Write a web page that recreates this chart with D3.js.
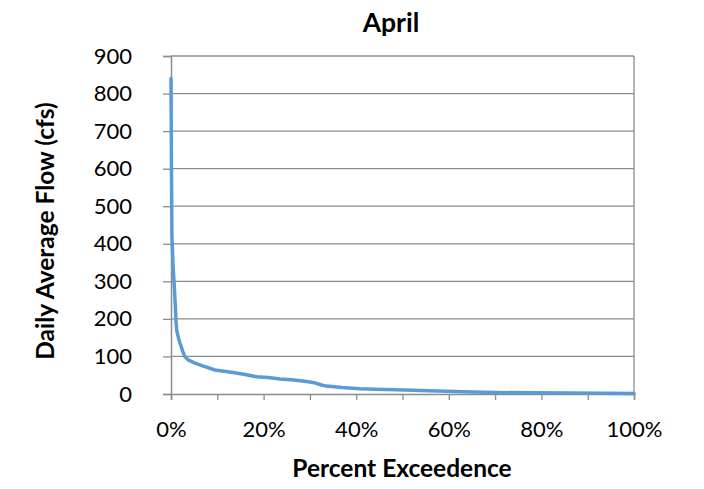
<!DOCTYPE html>
<html><head><meta charset="utf-8">
<script src="https://cdn.jsdelivr.net/npm/d3@7"></script>
<style>body{margin:0;background:#fff;} svg{display:block;}</style>
</head><body>
<svg id="c" width="704" height="489"></svg>
<script>
const title = "April";
const xTitle = "Percent Exceedence";
const yTitle = "Daily Average Flow (cfs)";
const pctExceed = [0, 0.1, 0.2, 0.45, 0.7, 0.95, 1.1, 1.25, 1.6, 1.95, 2.5, 3.0, 3.8, 5.2, 7.0, 9.5, 13.4, 16, 18.5, 21, 23.5, 26, 29.3, 31, 32.5, 33.6, 37, 40.8, 44, 48.7, 54, 59.5, 65, 70.3, 78, 86, 93, 100];
const flow =      [840, 600, 420, 340, 290, 230, 190, 168, 150, 135, 115, 99, 90, 82, 74, 64, 57, 52, 46, 44, 40, 38, 33, 30, 24, 21, 17, 14, 12.5, 11, 9, 7, 5, 4, 3, 2.5, 2, 1];
const yTicks = [0,100,200,300,400,500,600,700,800,900];
const xTicks = [0,10,20,30,40,50,60,70,80,90,100];
const xLabels = [0,20,40,60,80,100];

const svg = d3.select("#c");
const L = 171, R = 634, T = 56, B = 394;
const x = d3.scaleLinear().domain([0,100]).range([L,R]);
const y = d3.scaleLinear().domain([0,900]).range([B,T]);
const font = "Lato, 'Open Sans', sans-serif";
const grey = "#8c8c8c";

// gridlines
svg.append("g").selectAll("line").data(yTicks.filter(d=>d>0)).join("line")
  .attr("x1",L).attr("x2",R).attr("y1",d=>y(d)).attr("y2",d=>y(d))
  .attr("stroke",grey).attr("stroke-width",1.3);
// right border
svg.append("line").attr("x1",R).attr("x2",R).attr("y1",T).attr("y2",B).attr("stroke",grey).attr("stroke-width",1.3);

// y axis
const ya = svg.append("g").attr("transform",`translate(${L},0)`)
  .call(d3.axisLeft(y).tickValues(yTicks).tickSize(8).tickPadding(31).tickFormat(d3.format("d")));
ya.select(".domain").attr("stroke",grey).attr("stroke-width",1.5);
ya.selectAll(".tick line").attr("stroke",grey).attr("stroke-width",1.3);
ya.selectAll("text").attr("font-family",font).attr("font-size",22).attr("fill","#000");

// x axis
const xa = svg.append("g").attr("transform",`translate(0,${B})`)
  .call(d3.axisBottom(x).tickValues(xTicks).tickSize(6).tickPadding(21).tickFormat(d=> xLabels.includes(d) ? d+"%" : ""));
xa.select(".domain").attr("stroke",grey).attr("stroke-width",1.5);
xa.selectAll(".tick line").attr("stroke",grey).attr("stroke-width",1.3);
xa.selectAll("text").attr("font-family",font).attr("font-size",22).attr("fill","#000");

// line
const line = d3.line().x((d,i)=>x(pctExceed[i])).y(d=>y(d));
svg.append("path").datum(flow).attr("d",line).attr("fill","none")
  .attr("stroke","#5B9BD5").attr("stroke-width",3.5).attr("stroke-linejoin","round").attr("stroke-linecap","round");

// titles
svg.append("text").attr("x",391).attr("y",32).attr("text-anchor","middle")
  .attr("font-family",font).attr("font-weight","bold").attr("font-size",26.5).text(title);
svg.append("text").attr("x",402).attr("y",477).attr("text-anchor","middle")
  .attr("font-family",font).attr("font-weight","bold").attr("font-size",24.5).text(xTitle);
svg.append("text").attr("transform","translate(53.5,231) rotate(-90)").attr("text-anchor","middle")
  .attr("font-family",font).attr("font-weight","bold").attr("font-size",24.5).text(yTitle);
</script>
</body></html>
